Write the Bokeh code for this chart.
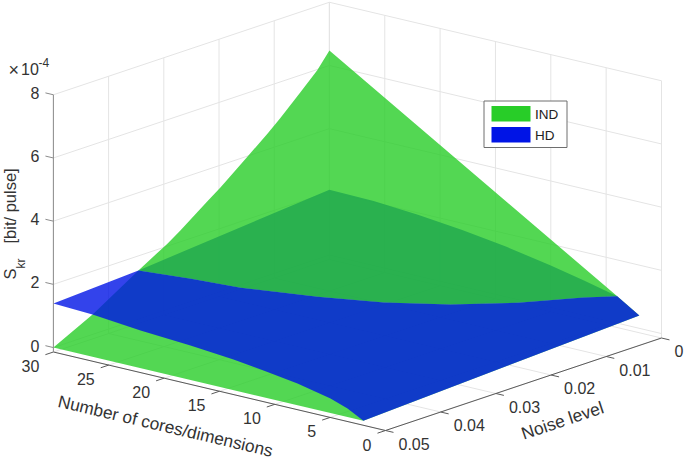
from bokeh.plotting import figure
from bokeh.models import Range1d
from bokeh.core.properties import value
from bokeh.embed import file_html
from bokeh.resources import INLINE
import math

# ---------- tick labels ----------
core_ticks = [0, 5, 10, 15, 20, 25, 30]
noise_ticks = [0, 0.01, 0.02, 0.03, 0.04, 0.05]
noise_tick_labels = ["0", "0.01", "0.02", "0.03", "0.04", "0.05"]
z_ticks = [0, 2, 4, 6, 8]

# ---------- values (S_kr in units of 1e-4) ----------
# IND, edge at 30 cores, as a function of noise
ind30_noise = [0, 0.0022, 0.00525, 0.00888, 0.01123, 0.01486, 0.0197, 0.0221, 0.027, 0.02935, 0.0346, 0.0429, 0.05]
ind30_z = [6.47, 5.98, 5.46, 4.86, 4.50, 3.98, 3.30, 3.00, 2.36, 2.08, 1.54, 0.63, 0.0]
# HD, edge at 30 cores
hd30_noise = [0, 0.0346, 0.05]
hd30_z = [2.07, 1.54, 1.395]
# IND, edge at zero noise
ind0_cores = [30, 4, 2]
ind0_z = [6.47, 0.85, 0.41]
# HD, edge at zero noise
hd0_cores = [30, 26, 22, 18, 14, 10, 7, 4, 2]
hd0_z = [2.07, 2.04, 1.94, 1.785, 1.585, 1.326, 1.10, 0.85, 0.41]
# HD, edge at noise 0.05
hd5_cores = [30, 26.47, 22.13, 17.62, 13.73, 11.02, 7.95, 4.97, 3.43, 2]
hd5_z = [1.395, 1.34, 1.19, 1.09, 0.97, 0.85, 0.69, 0.46, 0.27, 0.0]
# IND, edge at noise 0.05
ind5_cores = [30, 2]
ind5_z = [0.0, 0.0]
# where both surfaces cross (cores, noise, S_kr)
cross_cores = [30, 25.8, 22.2, 17.2, 13.3, 10.1, 7.4, 5.3, 4]
cross_noise = [0.0346, 0.0335, 0.0317, 0.0278, 0.0236, 0.018, 0.0112, 0.0035, 0]
cross_z = [1.54, 1.56, 1.47, 1.37, 1.26, 1.14, 1.02, 0.91, 0.85]

Z_MIN, Z_MAX = -0.14, 8
N_MAX, C_MAX = 0.05, 30
GREEN, BLUE = "#28cd28", "#0014e6"


def P(c, n, z):
    return (661 - 11.07 * c - 5520 * n,
            337.5 - 2.617 * c + 1850 * n - 31.6 * (z - Z_MIN))


def poly(points):
    pts = [P(*q) for q in points]
    return [a for a, _ in pts], [b for _, b in pts]


p = figure(width=685, height=460, output_backend="svg", toolbar_location=None,
           x_range=Range1d(0, 685), y_range=Range1d(460, 0), min_border=0)
p.axis.visible = False
p.grid.visible = False
p.outline_line_color = None

# ---------- grid ----------
gx, gy = [], []


def seg(*pts):
    a, b = poly(pts)
    gx.append(a)
    gy.append(b)


for z in z_ticks:
    seg((C_MAX, N_MAX, z), (C_MAX, 0, z), (0, 0, z))
for n in noise_ticks:
    seg((C_MAX, n, Z_MIN), (C_MAX, n, Z_MAX))
    seg((C_MAX, n, Z_MIN), (0, n, Z_MIN))
for c in core_ticks:
    seg((c, 0, Z_MIN), (c, 0, Z_MAX))
    seg((c, N_MAX, Z_MIN), (c, 0, Z_MIN))
p.multi_line(gx, gy, line_color="#e4e4e4", line_width=1)

# ---------- surfaces, split along their crossing ----------
cross = list(zip(cross_cores, cross_noise, cross_z))
k = ind30_noise.index(cross_noise[0])
ind30 = [(C_MAX, n, z) for n, z in zip(ind30_noise, ind30_z)]
ind0 = [(c, 0, z) for c, z in zip(ind0_cores, ind0_z)]
ind5 = [(c, N_MAX, z) for c, z in zip(ind5_cores, ind5_z)]
hd30 = [(C_MAX, n, z) for n, z in zip(hd30_noise, hd30_z)]
hd0 = [(c, 0, z) for c, z in zip(hd0_cores, hd0_z)]
hd5 = [(c, N_MAX, z) for c, z in zip(hd5_cores, hd5_z)]

i0k = hd0_cores.index(cross_cores[-1])
hd_low = [hd30[0]] + hd0[:i0k + 1] + cross[::-1]
hd_up = [hd30[1], hd30[2]] + hd5 + hd0[:i0k - 1:-1] + cross[::-1]
ind_up = ind30[:k + 1][::-1] + ind0[:2] + cross[::-1]
ind_low = ind30[k:] + ind5 + ind0[:0:-1] + cross[::-1]

for pts, col in ((hd_low, BLUE), (ind_low, GREEN), (ind_up, GREEN), (hd_up, BLUE)):
    a, b = poly(pts)
    p.patch(a, b, fill_color=col, fill_alpha=0.8, line_color=None)

# ---------- axes ----------
ax_x, ax_y = [], []


def axseg(*pts):
    a, b = poly(pts)
    ax_x.append(a)
    ax_y.append(b)


axseg((C_MAX, N_MAX, Z_MIN), (0, N_MAX, Z_MIN), (0, 0, Z_MIN))
for c in core_ticks:
    axseg((c, N_MAX, Z_MIN), (c, N_MAX + 0.00145, Z_MIN))
for n in noise_ticks:
    axseg((0, n, Z_MIN), (-0.72, n, Z_MIN))
p.multi_line(ax_x, ax_y, line_color="#5a5a5a", line_width=1)
zx, zy = [], []
a, b = poly([(C_MAX, N_MAX, Z_MIN), (C_MAX, N_MAX, Z_MAX)])
zx.append(a); zy.append(b)
for z in z_ticks:
    a, b = poly([(C_MAX, N_MAX, z), (C_MAX + 0.72, N_MAX, z)])
    zx.append(a); zy.append(b)
p.multi_line(zx, zy, line_color="#8c8c8c", line_width=1)

# ---------- tick labels ----------
FONT = value("Liberation Sans")
TXT = "#333333"
for c in core_ticks:
    x, y = P(c, N_MAX, Z_MIN)
    p.text([x], [y], text=[str(c)], x_offset=-14, y_offset=14, text_align="right",
           text_baseline="middle", text_font=FONT, text_font_size="16px", text_color=TXT)
for n, lab in zip(noise_ticks, noise_tick_labels):
    x, y = P(0, n, Z_MIN)
    p.text([x], [y], text=[lab], x_offset=13, y_offset=13, text_align="left",
           text_baseline="middle", text_font=FONT, text_font_size="16px", text_color=TXT)
for z in z_ticks:
    x, y = P(C_MAX, N_MAX, z)
    p.text([x], [y], text=[str(z)], x_offset=-14, y_offset=-2, text_align="right",
           text_baseline="middle", text_font=FONT, text_font_size="16px", text_color=TXT)

# ---------- axis titles ----------
p.text([165], [425.5], text=["Number of cores/dimensions"], angle=-math.atan(78 / 332),
       text_align="center", text_baseline="middle", text_font=FONT,
       text_font_size="17.3px", text_color=TXT)
p.text([562], [420], text=["Noise level"], angle=math.atan(92.5 / 276),
       text_align="center", text_baseline="middle", text_font=FONT,
       text_font_size="17.5px", text_color=TXT)
p.text([9], [279], text=["S"], angle=math.pi / 2, text_align="left", text_baseline="middle",
       text_font=FONT, text_font_size="16.5px", text_color=TXT)
p.text([20], [268], text=["kr"], angle=math.pi / 2, text_align="left", text_baseline="middle",
       text_font=FONT, text_font_size="12px", text_color=TXT)
p.text([9], [243], text=["[bit/ pulse]"], angle=math.pi / 2, text_align="left",
       text_baseline="middle", text_font=FONT, text_font_size="16.5px", text_color=TXT)
p.text([8], [69.5], text=["\u00d7"], text_align="left", text_baseline="middle", text_font=FONT,
       text_font_size="18px", text_color=TXT)
p.text([20.5], [68], text=["10"], text_align="left", text_baseline="middle", text_font=FONT,
       text_font_size="16px", text_color=TXT)
p.text([38], [62], text=["-4"], text_align="left", text_baseline="middle", text_font=FONT,
       text_font_size="12px", text_color=TXT)

# ---------- legend ----------
p.quad(left=[483.5], right=[566.5], top=[100.5], bottom=[147], fill_color="white",
       line_color="#6e6e6e", line_width=1)
p.quad(left=[491], right=[530], top=[105.5], bottom=[121], fill_color=GREEN, line_color=None)
p.quad(left=[491], right=[530], top=[126.5], bottom=[142], fill_color=BLUE, line_color=None)
p.text([534.5], [114], text=["IND"], text_align="left", text_baseline="middle", text_font=FONT,
       text_font_size="13.5px", text_color="#222222")
p.text([534.5], [135], text=["HD"], text_align="left", text_baseline="middle", text_font=FONT,
       text_font_size="13.5px", text_color="#222222")

open("out.html", "w").write(file_html(p, INLINE))
